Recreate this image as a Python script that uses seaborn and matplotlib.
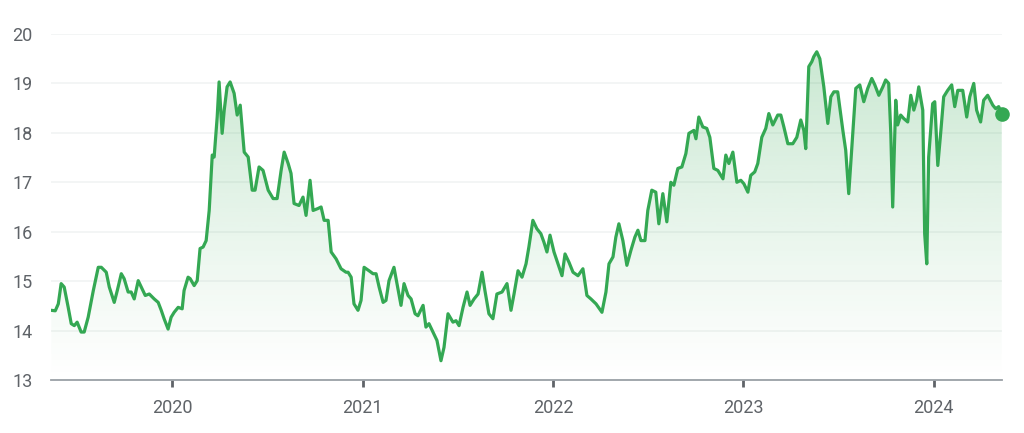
import numpy as np
import pandas as pd
import matplotlib
matplotlib.use("Agg")
import matplotlib.pyplot as plt
from matplotlib.patches import Polygon
import seaborn as sns

# ---- data (decimal year, price) ----
years = [
    2019.363, 2019.384, 2019.400, 2019.415, 2019.431, 2019.452, 2019.468, 2019.484, 2019.499, 2019.520,
    2019.536, 2019.557, 2019.584, 2019.610, 2019.626, 2019.652, 2019.668, 2019.694, 2019.710, 2019.731,
    2019.746, 2019.767, 2019.783, 2019.799, 2019.820, 2019.836, 2019.857, 2019.878, 2019.904, 2019.925,
    2019.941, 2019.956, 2019.977, 2019.993, 2020.009, 2020.030, 2020.051, 2020.061, 2020.082, 2020.093,
    2020.114, 2020.130, 2020.145, 2020.161, 2020.177, 2020.193, 2020.209, 2020.219, 2020.235, 2020.245,
    2020.261, 2020.272, 2020.287, 2020.303, 2020.324, 2020.340, 2020.356, 2020.377, 2020.398, 2020.419,
    2020.434, 2020.455, 2020.476, 2020.503, 2020.529, 2020.550, 2020.571, 2020.587, 2020.608, 2020.623,
    2020.639, 2020.665, 2020.686, 2020.702, 2020.723, 2020.739, 2020.765, 2020.781, 2020.797, 2020.818,
    2020.834, 2020.860, 2020.886, 2020.912, 2020.923, 2020.939, 2020.954, 2020.975, 2020.991, 2021.007,
    2021.033, 2021.054, 2021.070, 2021.086, 2021.107, 2021.122, 2021.138, 2021.164, 2021.180, 2021.201,
    2021.217, 2021.238, 2021.254, 2021.275, 2021.290, 2021.317, 2021.332, 2021.348, 2021.369, 2021.390,
    2021.411, 2021.427, 2021.448, 2021.474, 2021.490, 2021.506, 2021.527, 2021.548, 2021.564, 2021.585,
    2021.606, 2021.627, 2021.642, 2021.663, 2021.684, 2021.705, 2021.732, 2021.758, 2021.779, 2021.795,
    2021.816, 2021.837, 2021.858, 2021.873, 2021.894, 2021.915, 2021.936, 2021.952, 2021.968, 2021.984,
    2022.005, 2022.026, 2022.047, 2022.063, 2022.084, 2022.105, 2022.131, 2022.157, 2022.178, 2022.199,
    2022.226, 2022.257, 2022.278, 2022.294, 2022.315, 2022.330, 2022.346, 2022.367, 2022.388, 2022.409,
    2022.430, 2022.446, 2022.462, 2022.483, 2022.498, 2022.519, 2022.540, 2022.556, 2022.577, 2022.598,
    2022.619, 2022.635, 2022.656, 2022.677, 2022.698, 2022.714, 2022.740, 2022.751, 2022.766, 2022.787,
    2022.808, 2022.824, 2022.845, 2022.866, 2022.893, 2022.908, 2022.924, 2022.945, 2022.966, 2022.987,
    2023.003, 2023.024, 2023.039, 2023.060, 2023.076, 2023.097, 2023.118, 2023.134, 2023.155, 2023.181,
    2023.197, 2023.213, 2023.234, 2023.260, 2023.281, 2023.302, 2023.318, 2023.328, 2023.344, 2023.360,
    2023.370, 2023.386, 2023.402, 2023.423, 2023.444, 2023.460, 2023.476, 2023.496, 2023.523, 2023.538,
    2023.554, 2023.575, 2023.591, 2023.612, 2023.633, 2023.654, 2023.675, 2023.691, 2023.712, 2023.733,
    2023.748, 2023.764, 2023.775, 2023.785, 2023.801, 2023.811, 2023.827, 2023.843, 2023.864, 2023.880,
    2023.896, 2023.911, 2023.922, 2023.943, 2023.953, 2023.964, 2023.974, 2023.995, 2024.006, 2024.022,
    2024.037, 2024.053, 2024.074, 2024.095, 2024.111, 2024.127, 2024.153, 2024.174, 2024.190, 2024.211,
    2024.226, 2024.247, 2024.263, 2024.284, 2024.311, 2024.326, 2024.342, 2024.358,
]
prices = [
    14.41, 14.40, 14.54, 14.95, 14.88, 14.47, 14.14, 14.10, 14.17, 13.97,
    13.97, 14.27, 14.81, 15.28, 15.28, 15.18, 14.88, 14.57, 14.81, 15.15,
    15.05, 14.78, 14.78, 14.64, 15.01, 14.88, 14.71, 14.74, 14.64, 14.57,
    14.41, 14.24, 14.03, 14.27, 14.37, 14.47, 14.44, 14.81, 15.08, 15.05,
    14.91, 15.01, 15.66, 15.69, 15.82, 16.43, 17.55, 17.51, 18.32, 19.03,
    17.99, 18.46, 18.93, 19.03, 18.80, 18.36, 18.56, 17.61, 17.51, 16.84,
    16.84, 17.31, 17.24, 16.84, 16.67, 16.67, 17.24, 17.61, 17.38, 17.18,
    16.57, 16.53, 16.70, 16.33, 17.04, 16.43, 16.47, 16.50, 16.23, 16.23,
    15.59, 15.45, 15.25, 15.18, 15.18, 15.08, 14.54, 14.41, 14.61, 15.28,
    15.21, 15.15, 15.15, 14.88, 14.57, 14.61, 15.01, 15.28, 14.95, 14.51,
    14.95, 14.71, 14.64, 14.34, 14.30, 14.51, 14.07, 14.14, 13.97, 13.80,
    13.39, 13.66, 14.34, 14.17, 14.20, 14.10, 14.47, 14.78, 14.51, 14.64,
    14.74, 15.18, 14.81, 14.34, 14.24, 14.74, 14.78, 14.95, 14.41, 14.74,
    15.21, 15.08, 15.35, 15.69, 16.23, 16.06, 15.96, 15.79, 15.59, 15.93,
    15.59, 15.35, 15.11, 15.55, 15.38, 15.18, 15.11, 15.25, 14.71, 14.64,
    14.54, 14.37, 14.78, 15.35, 15.49, 15.89, 16.16, 15.82, 15.32, 15.62,
    15.89, 16.03, 15.82, 15.82, 16.43, 16.84, 16.80, 16.16, 16.77, 16.20,
    17.00, 16.94, 17.28, 17.31, 17.58, 17.99, 18.05, 17.88, 18.32, 18.12,
    18.09, 17.91, 17.28, 17.24, 17.07, 17.55, 17.38, 17.61, 17.00, 17.04,
    16.97, 16.80, 17.14, 17.21, 17.38, 17.91, 18.09, 18.39, 18.16, 18.36,
    18.36, 18.12, 17.78, 17.78, 17.91, 18.26, 18.05, 17.68, 19.34, 19.44,
    19.54, 19.64, 19.50, 18.93, 18.19, 18.73, 18.83, 18.83, 18.05, 17.65,
    16.77, 17.99, 18.90, 18.97, 18.63, 18.90, 19.10, 18.97, 18.76, 18.93,
    19.07, 19.00, 17.99, 16.50, 18.66, 18.16, 18.36, 18.29, 18.22, 18.76,
    18.46, 18.66, 18.93, 18.46, 15.96, 15.35, 17.51, 18.59, 18.63, 17.34,
    17.99, 18.73, 18.86, 18.97, 18.53, 18.86, 18.86, 18.32, 18.73, 19.00,
    18.46, 18.22, 18.66, 18.76, 18.56, 18.49, 18.53, 18.38,
]
tick_years = [2020, 2021, 2022, 2023, 2024]
tick_labels = ["2020", "2021", "2022", "2023", "2024"]
y_ticks = [13, 14, 15, 16, 17, 18, 19, 20]

df = pd.DataFrame({"year": years, "price": prices})

GREEN = "#34a853"
TEXT = "#5f6368"

sns.set_theme(style="white")
plt.rcParams["font.family"] = ["Roboto", "DejaVu Sans"]

fig = plt.figure(figsize=(10.24, 4.33), dpi=100)
ax = fig.add_axes([0.0495, 0.1224, 0.9295, 0.7991])

XMIN, XMAX = 2019.36, 2024.362
YMIN, YMAX = 13, 20

# gridlines
for v in y_ticks[1:]:
    ax.axhline(v, color="#f1f3f4", lw=1.2, zorder=0)

# gradient fill under the curve
x = df["year"].to_numpy()
y = df["price"].to_numpy()
verts = np.column_stack([np.r_[x[0], x, x[-1]], np.r_[YMIN, y, YMIN]])
poly = Polygon(verts, closed=True, facecolor="none", edgecolor="none")
ax.add_patch(poly)
n = 256
rgba = np.zeros((n, 1, 4))
rgba[..., :3] = matplotlib.colors.to_rgb(GREEN)
rgba[:, 0, 3] = np.linspace(0.0, 0.30, n) ** 1.1
im = ax.imshow(rgba, extent=[XMIN, XMAX, YMIN, 19.7], origin="lower",
               aspect="auto", zorder=1, interpolation="bicubic")
im.set_clip_path(poly)

sns.lineplot(data=df, x="year", y="price", ax=ax, color=GREEN, lw=2.3,
             zorder=3, estimator=None, sort=False,
             solid_joinstyle="round", solid_capstyle="round")
ax.plot([x[-1]], [y[-1]], "o", color=GREEN, ms=9.5, zorder=4, clip_on=False)

ax.set_xlim(XMIN, XMAX)
ax.set_ylim(YMIN, YMAX)
ax.set_xlabel("")
ax.set_ylabel("")

for s in ["top", "right", "left"]:
    ax.spines[s].set_visible(False)
ax.spines["bottom"].set_color("#9aa0a6")
ax.spines["bottom"].set_linewidth(1.3)

ax.set_xticks(tick_years)
ax.set_xticklabels(tick_labels)
ax.set_yticks(y_ticks)
ax.set_yticklabels([str(v) for v in y_ticks])
ax.tick_params(axis="x", length=5, width=2, color="#5f6368", pad=9,
               labelsize=13, labelcolor=TEXT, direction="out", bottom=True)
ax.tick_params(axis="y", length=0, pad=13, labelsize=13, labelcolor=TEXT)

fig.savefig("out.png", dpi=100, facecolor="white")
